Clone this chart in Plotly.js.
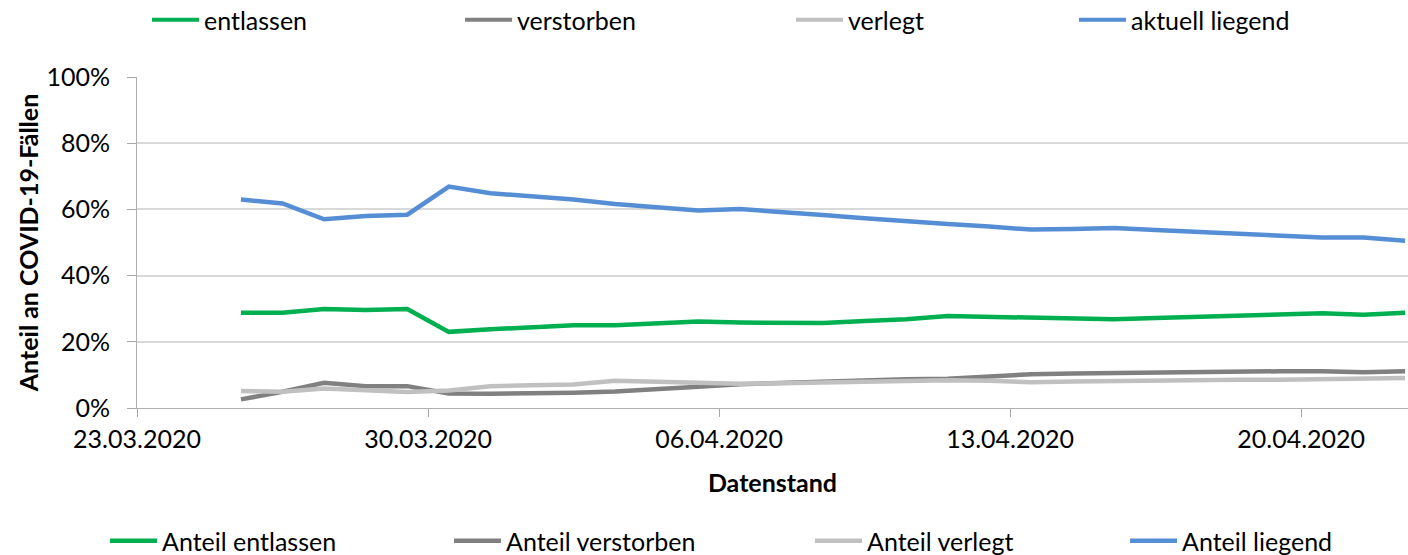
<!DOCTYPE html>
<html>
<head>
<meta charset="utf-8">
<script src="https://cdn.plot.ly/plotly-3.0.1.min.js"></script>
<style>html,body{margin:0;padding:0;background:#fff;}#chart{width:1408px;height:555px;}</style>
</head>
<body>
<div id="chart"></div>
<script>
// Data (Datenstand, Anteile in %)
const dates = ["2020-03-25","2020-03-26","2020-03-27","2020-03-28","2020-03-29","2020-03-30","2020-03-31",
  "2020-04-01","2020-04-02","2020-04-03","2020-04-04","2020-04-05","2020-04-06","2020-04-07","2020-04-08",
  "2020-04-09","2020-04-10","2020-04-11","2020-04-12","2020-04-13","2020-04-14","2020-04-15","2020-04-16",
  "2020-04-17","2020-04-18","2020-04-19","2020-04-20","2020-04-21","2020-04-22"];
const anteilEntlassen = [28.8,28.8,29.9,29.6,29.9,23.0,23.8,24.4,25.0,25.0,25.6,26.1,25.8,25.7,25.7,
  26.3,26.8,27.8,27.6,27.5,27.0,26.8,27.2,27.6,27.9,28.3,28.6,28.2,28.8];
const anteilVerstorben = [2.6,4.9,7.6,6.6,6.6,4.4,4.3,4.4,4.6,5.0,5.6,6.4,7.2,7.6,7.9,
  8.3,8.7,8.8,9.5,10.2,10.4,10.6,10.7,10.8,11.0,11.1,11.1,10.8,11.1];
const anteilVerlegt = [5.1,4.9,5.9,5.5,4.8,5.3,6.6,6.9,7.1,8.2,7.8,7.5,7.3,7.5,7.7,
  7.8,8.2,8.4,8.2,7.8,8.0,8.2,8.3,8.4,8.5,8.5,8.6,9.0,9.1];
const anteilLiegend = [63.0,61.8,57.0,58.0,58.4,66.9,64.9,64.0,63.0,61.6,60.5,59.7,60.1,59.3,58.3,
  57.3,56.3,55.6,54.8,53.9,54.1,54.4,53.8,53.2,52.6,52.0,51.5,51.5,50.5];
const topLegendNames = ["entlassen","verstorben","verlegt","aktuell liegend"];
const seriesNames = ["Anteil entlassen","Anteil verstorben","Anteil verlegt","Anteil liegend"];
const yTickValues = [0,20,40,60,80,100];
const yTickLabels = yTickValues.map(v => v + "%");

const colors = ["#00b050","#808080","#c0c0c0","#558ed5"];
const FONT = "Lato, 'Open Sans', sans-serif";
const FS = 25;

// Points sit in the middle of each day (date axis, between tick marks)
const xMid = dates.map(d => d + " 12:00");
const series = [anteilEntlassen, anteilVerstorben, anteilVerlegt, anteilLiegend];

const W = 1408, H = 555;
const PLOT_L = 137, PLOT_T = 77, PLOT_H = 331;

const topLineStart = [152, 465, 796, 1079];
const botLineStart = [110, 454, 815, 1130];

const traces = [];
const layout = {
  width: W, height: H,
  margin: {l: PLOT_L, r: 0, t: PLOT_T, b: H - PLOT_T - PLOT_H, pad: 0},
  paper_bgcolor: "#ffffff", plot_bgcolor: "#ffffff",
  font: {family: FONT, size: FS, color: "#000000"},
  xaxis: {
    type: "date",
    range: ["2020-03-23", "2020-04-22 13:40"],
    tick0: "2020-03-23", dtick: 7 * 86400000,
    tickformat: "%d.%m.%Y",
    ticks: "outside", ticklen: 8, tickwidth: 1, tickcolor: "#a6a6a6",
    showgrid: false, showline: true, linecolor: "#b0b0b0", linewidth: 1,
    zeroline: false, automargin: false,
    tickfont: {family: FONT, size: FS, color: "#000"},
    ticklabelstandoff: 1,
    title: {text: "Datenstand", font: {family: FONT, size: FS, color: "#000", weight: "bold"}, standoff: 22},
    fixedrange: true
  },
  yaxis: {
    range: [0, 100], tickmode: "array", tickvals: yTickValues, ticktext: yTickLabels,
    ticks: "outside", ticklen: 9, tickwidth: 1, tickcolor: "#a6a6a6",
    showgrid: true, gridcolor: "#d9d9d9", gridwidth: 1.5,
    showline: true, linecolor: "#b0b0b0", linewidth: 1,
    zeroline: false, automargin: false,
    tickfont: {family: FONT, size: FS, color: "#000"},
    ticklabelstandoff: 12,
    title: {text: "Anteil an COVID-19-Fällen", font: {family: FONT, size: FS, color: "#000", weight: "bold"}, standoff: 0},
    fixedrange: true
  },
  showlegend: true
};

function legendDef(xpx, ypx) {
  return {
    orientation: "h", x: xpx / W, y: 1 - ypx / H, xanchor: "left", yanchor: "middle",
    xref: "container", yref: "container", bgcolor: "rgba(0,0,0,0)", borderwidth: 0,
    font: {family: FONT, size: FS, color: "#000"}, itemwidth: 47, itemclick: false, itemdoubleclick: false
  };
}

let li = 1;
// Top legend entries (listed in the source legend, no drawn series)
topLegendNames.forEach((name, i) => {
  const key = li === 1 ? "legend" : "legend" + li;
  layout[key] = legendDef(topLineStart[i] - 5, 20);
  traces.push({x: [null], y: [null], type: "scatter", mode: "lines", name: name,
    line: {color: colors[i], width: 4}, legend: key, hoverinfo: "skip"});
  li++;
});
// Plotted series
series.forEach((vals, i) => {
  const key = "legend" + li;
  layout[key] = legendDef(botLineStart[i] - 5, 541);
  traces.push({x: xMid, y: vals, type: "scatter", mode: "lines", name: seriesNames[i],
    line: {color: colors[i], width: 4.5, shape: "linear"}, legend: key,
    hovertemplate: "%{x|%d.%m.%Y}: %{y:.1f}%<extra>" + seriesNames[i] + "</extra>"});
  li++;
});

Plotly.newPlot("chart", traces, layout, {displayModeBar: false});
</script>
</body>
</html>
